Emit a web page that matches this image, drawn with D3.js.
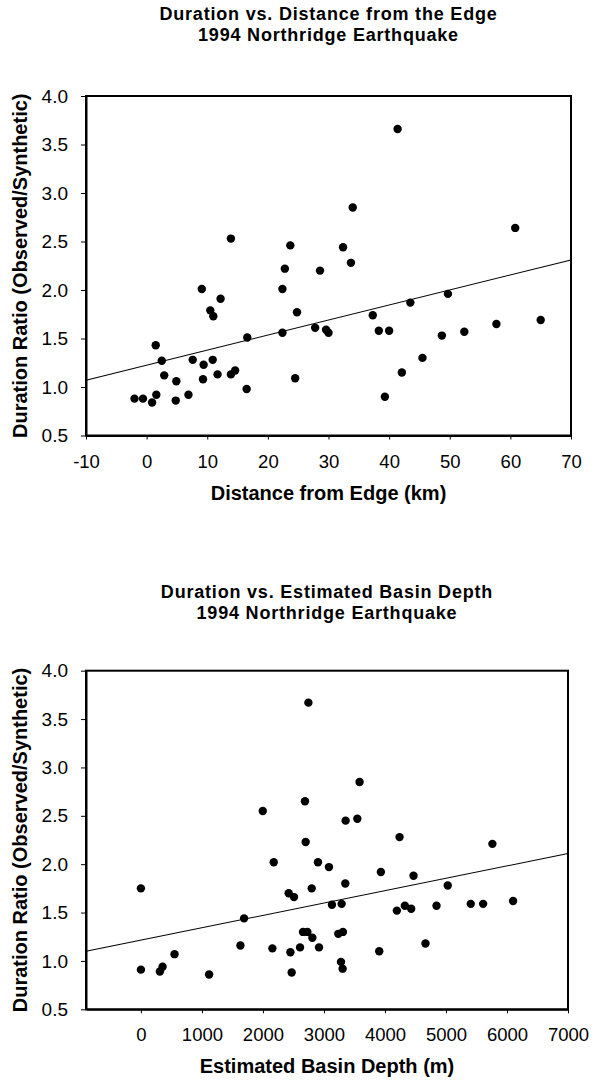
<!DOCTYPE html>
<html>
<head>
<meta charset="utf-8">
<script src="https://cdn.jsdelivr.net/npm/d3@7"></script>
<style>
    body { margin: 0; background: #fff; }
    text { font-family: "Liberation Sans", Arial, sans-serif; fill: #000; }
</style>
</head>
<body>
<div id="chart"></div>
<script>
// Top chart: distance from basin edge (km) vs duration ratio.
const edge_distance = [-2.0, -0.6, 0.9, 1.5, 1.6, 2.5, 2.9, 4.9, 4.8, 6.9,
    7.6, 9.1, 9.4, 9.3, 10.5, 11.0, 10.9, 11.7, 12.2, 13.9,
    13.9, 14.6, 16.5, 16.6, 22.4, 22.8, 22.4, 23.7, 24.8, 24.5,
    27.8, 28.6, 29.6, 30.0, 41.4, 34.0, 32.4, 33.7, 37.3, 38.3,
    40.0, 39.3, 42.1, 43.5, 45.5, 48.7, 49.7, 52.4, 57.7, 60.8, 65.0];
const edge_ratio = [0.88, 0.88, 0.84, 1.43, 0.92, 1.27, 1.12, 1.06, 0.86, 0.92,
    1.28, 2.01, 1.23, 1.08, 1.79, 1.73, 1.28, 1.13, 1.91, 2.53,
    1.13, 1.17, 0.98, 1.51, 2.01, 2.22, 1.56, 2.46, 1.77, 1.09,
    1.61, 2.20, 1.59, 1.56, 3.66, 2.85, 2.44, 2.28, 1.74, 1.58,
    1.58, 0.90, 1.15, 1.87, 1.30, 1.53, 1.96, 1.57, 1.65, 2.64, 1.69];
const edge_trend_x = [-10, 70];
const edge_trend_y = [1.07, 2.31];
const distance_ticks = [-10, 0, 10, 20, 30, 40, 50, 60, 70];

// Bottom chart: estimated basin depth (m) vs duration ratio.
const basin_depth = [0, 311, 355, 551, 1118, 1631, 2155, 2450, 2471, 2608,
    2657, 2728, 2810, 2919, 3235, 3311, 3279, 3306, 3906, 4664,
    2745, 2689, 1997, 2700, 2177, 2902, 3082, 0, 2799, 2422,
    2509, 3131, 1691, 3584, 3355, 3547, 4239, 5761, 3933, 4468,
    3350, 5029, 3290, 4195, 4326, 4430, 4845, 5406, 5609, 6100];
const basin_ratio = [0.91, 0.89, 0.94, 1.07, 0.86, 1.16, 1.13, 1.09, 0.88, 1.14,
    1.30, 1.30, 1.24, 1.14, 1.28, 1.30, 0.99, 0.92, 1.10, 1.18,
    3.67, 2.65, 2.55, 2.23, 2.02, 2.02, 1.97, 1.75, 1.75, 1.70,
    1.66, 1.58, 1.44, 2.85, 2.45, 2.47, 2.28, 2.21, 1.92, 1.88,
    1.80, 1.78, 1.59, 1.52, 1.57, 1.54, 1.57, 1.59, 1.59, 1.62];
const basin_trend_x = [-900, 7000];
const basin_trend_y = [1.10, 2.11];
const depth_ticks = [0, 1000, 2000, 3000, 4000, 5000, 6000, 7000];

const ratio_ticks = [0.5, 1.0, 1.5, 2.0, 2.5, 3.0, 3.5, 4.0];
const y_title = 'Duration Ratio (Observed/Synthetic)';

const svg = d3.select('#chart')
    .append('svg')
    .attr('width', 592)
    .attr('height', 1083);

function graph_scatter(opts) {
    const box = opts.box;

    const x = d3.scaleLinear()
        .domain(opts.x_domain)
        .range([box.left, box.right]);
    const y = d3.scaleLinear()
        .domain([0.5, 4.0])
        .range([box.bottom, box.top]);

    const g = svg.append('g');

    // titles, centred over the plot
    const mid = (box.left + box.right) / 2;
    g.selectAll('.title')
        .data(opts.title)
        .join('text')
            .attr('x', mid)
            .attr('y', (d, i) => opts.title_y + i * 21)
            .attr('text-anchor', 'middle')
            .style('font-size', '18px')
            .style('font-weight', 'bold')
            .style('letter-spacing', '0.8px')
            .text((d) => d);

    // frame
    g.append('rect')
        .attr('x', box.left)
        .attr('y', box.top)
        .attr('width', box.right - box.left)
        .attr('height', box.bottom - box.top)
        .attr('fill', 'none')
        .attr('stroke', '#000')
        .attr('stroke-width', 2);

    // plain hyphen for negatives, like the original
    const x_axis = g.append('g')
        .attr('transform', `translate(0, ${box.bottom})`)
        .call(d3.axisBottom(x)
            .tickValues(opts.x_ticks)
            .tickSize(4)
            .tickSizeOuter(0)
            .tickPadding(15)
            .tickFormat((d) => String(d)));
    x_axis.select('.domain').attr('stroke-width', 2);
    x_axis.selectAll('text').style('font-size', '18.5px');

    const y_axis = g.append('g')
        .attr('transform', `translate(${box.left}, 0)`)
        .call(d3.axisLeft(y)
            .tickValues(ratio_ticks)
            .tickSize(5)
            .tickSizeOuter(0)
            .tickPadding(13)
            .tickFormat(d3.format('.1f')));
    y_axis.select('.domain').attr('stroke-width', 2);
    y_axis.selectAll('text').style('font-size', '19px');

    g.append('text')
        .attr('transform', `translate(27, ${(box.top + box.bottom) / 2}) rotate(-90)`)
        .attr('text-anchor', 'middle')
        .style('font-size', '20px')
        .style('font-weight', 'bold')
        .text(y_title);

    g.append('text')
        .attr('x', mid)
        .attr('y', box.bottom + 64)
        .attr('text-anchor', 'middle')
        .style('font-size', '20px')
        .style('font-weight', 'bold')
        .text(opts.x_title);

    // trend line
    const trend = opts.trend_x.map((v, i) => [v, opts.trend_y[i]]);
    g.append('path')
        .attr('fill', 'none')
        .attr('stroke', '#000')
        .attr('stroke-width', 1.1)
        .attr('d', d3.line()
            .x((d) => x(d[0]))
            .y((d) => y(d[1]))
            (trend));

    const points = opts.xs.map((v, i) => ({ x: v, y: opts.ys[i] }));
    g.selectAll('.dot')
        .data(points)
        .join('circle')
            .attr('cx', (d) => x(d.x))
            .attr('cy', (d) => y(d.y))
            .attr('r', 4.2)
            .attr('fill', '#000');
}

graph_scatter({
    box: { left: 86, right: 571, top: 96, bottom: 435.5 },
    x_domain: [-10, 70],
    x_ticks: distance_ticks,
    xs: edge_distance,
    ys: edge_ratio,
    trend_x: edge_trend_x,
    trend_y: edge_trend_y,
    title: ['Duration vs. Distance from the Edge', '1994 Northridge Earthquake'],
    title_y: 20,
    x_title: 'Distance from Edge (km)',
});

graph_scatter({
    box: { left: 86, right: 568, top: 670.7, bottom: 1009.3 },
    x_domain: [-900, 7000],
    x_ticks: depth_ticks,
    xs: basin_depth,
    ys: basin_ratio,
    trend_x: basin_trend_x,
    trend_y: basin_trend_y,
    title: ['Duration vs. Estimated Basin Depth', '1994 Northridge Earthquake'],
    title_y: 598,
    x_title: 'Estimated Basin Depth (m)',
});
</script>
</body>
</html>
